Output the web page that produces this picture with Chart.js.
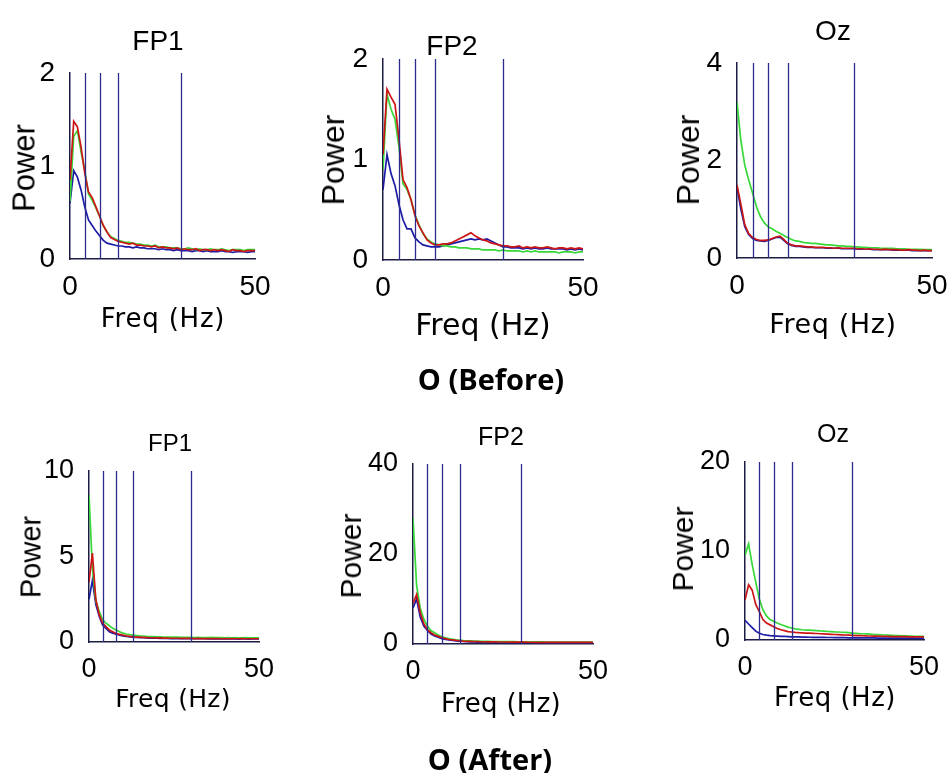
<!DOCTYPE html>
<html>
<head>
<meta charset="utf-8">
<title>EEG power spectra - O (Before / After)</title>
<script src="https://cdn.jsdelivr.net/npm/chart.js@4.4.0/dist/chart.umd.min.js"></script>
<style>
  * { margin: 0; padding: 0; box-sizing: border-box; }
  body { background: #fff; width: 950px; height: 773px; overflow: hidden; position: relative; font-family: 'Liberation Sans', Arial, sans-serif; color: #000; }
  canvas { position: absolute; }
  .lbl { position: absolute; white-space: nowrap; line-height: 1; transform: translate(-50%, -50%); }
  .rot { transform: translate(-50%, -50%) rotate(-90deg); }
  .freq { font-family: 'DejaVu Sans', sans-serif; }
  .section { font-family: 'Open Sans', sans-serif; font-weight: 700; }
</style>
</head>
<body>
<script>
// frequency axis (Hz) and band edges (delta/theta/alpha/beta/gamma)
const freqs = [0,1,2,3,4,5,6,7,8,9,10,11,12,13,14,15,16,17,18,19,20,21,22,23,24,25,26,27,28,29,30,31,32,33,34,35,36,37,38,39,40,41,42,43,44,45,46,47,48,49,50];
const bandEdges = [4, 8, 13, 30];
const xTicks = [0, 50];

// ---- O (Before) ----
const fp1BeforeTicks = [0, 1, 2];
const fp1BeforeRed = [0.85,1.48,1.42,1.2,0.92,0.72,0.66,0.56,0.46,0.36,0.29,0.23,0.21,0.19,0.18,0.17,0.16,0.17,0.15,0.15,0.14,0.14,0.13,0.14,0.12,0.13,0.12,0.12,0.11,0.12,0.1,0.11,0.1,0.1,0.11,0.09,0.1,0.1,0.09,0.1,0.09,0.1,0.09,0.08,0.1,0.09,0.09,0.08,0.09,0.09,0.09];
const fp1BeforeGreen = [0.62,1.32,1.38,1.15,0.95,0.7,0.63,0.55,0.46,0.36,0.29,0.24,0.22,0.2,0.19,0.18,0.18,0.17,0.16,0.16,0.15,0.15,0.14,0.15,0.13,0.13,0.13,0.12,0.12,0.12,0.11,0.11,0.12,0.11,0.1,0.11,0.1,0.1,0.11,0.1,0.1,0.11,0.1,0.09,0.1,0.1,0.1,0.09,0.1,0.1,0.1];
const fp1BeforeBlue = [0.6,0.95,0.88,0.74,0.56,0.42,0.36,0.3,0.25,0.2,0.17,0.16,0.15,0.14,0.14,0.13,0.13,0.12,0.13,0.12,0.12,0.11,0.11,0.11,0.1,0.11,0.1,0.1,0.09,0.1,0.09,0.09,0.09,0.08,0.09,0.09,0.08,0.09,0.08,0.08,0.08,0.09,0.08,0.08,0.07,0.08,0.08,0.08,0.07,0.08,0.08];

const fp2BeforeTicks = [0, 1, 2];
const fp2BeforeRed = [1.05,1.7,1.62,1.55,1.2,0.8,0.72,0.6,0.44,0.34,0.27,0.2,0.17,0.15,0.15,0.16,0.16,0.17,0.19,0.21,0.23,0.25,0.27,0.24,0.22,0.2,0.19,0.17,0.16,0.15,0.14,0.14,0.13,0.13,0.14,0.12,0.13,0.12,0.13,0.12,0.12,0.13,0.12,0.11,0.12,0.12,0.11,0.12,0.11,0.12,0.11];
const fp2BeforeGreen = [0.9,1.65,1.5,1.4,1.12,0.76,0.7,0.6,0.45,0.35,0.26,0.21,0.18,0.16,0.15,0.14,0.14,0.13,0.13,0.12,0.12,0.12,0.11,0.11,0.11,0.1,0.1,0.1,0.1,0.09,0.1,0.09,0.09,0.09,0.09,0.08,0.09,0.08,0.09,0.08,0.08,0.08,0.08,0.08,0.07,0.08,0.08,0.08,0.07,0.08,0.08];
const fp2BeforeBlue = [0.7,1.05,0.86,0.74,0.55,0.4,0.31,0.31,0.22,0.18,0.15,0.14,0.13,0.13,0.13,0.14,0.15,0.16,0.17,0.18,0.19,0.2,0.21,0.2,0.21,0.2,0.21,0.19,0.17,0.15,0.13,0.13,0.12,0.12,0.12,0.11,0.12,0.11,0.12,0.11,0.11,0.12,0.11,0.11,0.11,0.11,0.1,0.11,0.1,0.11,0.1];

const ozBeforeTicks = [0, 2, 4];
const ozBeforeRed = [1.5,1.1,0.68,0.5,0.42,0.38,0.36,0.36,0.37,0.4,0.43,0.45,0.38,0.3,0.27,0.25,0.25,0.24,0.23,0.23,0.22,0.22,0.22,0.21,0.21,0.2,0.21,0.2,0.2,0.2,0.2,0.19,0.19,0.18,0.19,0.18,0.18,0.17,0.18,0.17,0.17,0.17,0.16,0.16,0.17,0.16,0.16,0.15,0.16,0.15,0.15];
const ozBeforeGreen = [3.2,2.4,1.9,1.6,1.33,1.05,0.85,0.72,0.64,0.6,0.55,0.51,0.46,0.42,0.38,0.35,0.34,0.32,0.31,0.3,0.3,0.29,0.28,0.27,0.27,0.26,0.25,0.25,0.24,0.24,0.23,0.23,0.22,0.22,0.21,0.21,0.21,0.2,0.2,0.2,0.2,0.19,0.19,0.19,0.18,0.18,0.18,0.18,0.17,0.17,0.17];
const ozBeforeBlue = [1.45,1.0,0.64,0.48,0.4,0.36,0.35,0.34,0.36,0.39,0.42,0.43,0.36,0.29,0.26,0.24,0.24,0.23,0.22,0.22,0.21,0.21,0.21,0.2,0.2,0.2,0.2,0.19,0.19,0.19,0.19,0.18,0.18,0.18,0.18,0.17,0.17,0.17,0.17,0.17,0.16,0.16,0.16,0.16,0.16,0.15,0.15,0.15,0.15,0.15,0.15];

// ---- O (After) ----
const fp1AfterTicks = [0, 5, 10];
const fp1AfterRed = [3.5,5.2,2.5,1.6,1.1,0.9,0.7,0.6,0.5,0.45,0.4,0.36,0.33,0.3,0.29,0.28,0.27,0.26,0.25,0.25,0.24,0.24,0.23,0.23,0.22,0.22,0.22,0.21,0.21,0.21,0.21,0.2,0.21,0.2,0.2,0.2,0.2,0.2,0.2,0.19,0.2,0.19,0.2,0.19,0.19,0.2,0.19,0.19,0.19,0.19,0.19];
const fp1AfterGreen = [8.6,4.3,2.4,1.8,1.3,1.1,0.95,0.8,0.7,0.6,0.52,0.47,0.43,0.4,0.38,0.36,0.35,0.33,0.32,0.31,0.3,0.3,0.29,0.29,0.28,0.28,0.28,0.27,0.27,0.27,0.27,0.26,0.27,0.26,0.26,0.26,0.27,0.26,0.26,0.26,0.25,0.26,0.25,0.26,0.25,0.25,0.26,0.25,0.25,0.25,0.25];
const fp1AfterBlue = [2.5,3.6,2.2,1.5,1.0,0.8,0.6,0.52,0.45,0.4,0.35,0.32,0.3,0.28,0.27,0.26,0.25,0.24,0.23,0.22,0.22,0.21,0.21,0.21,0.2,0.2,0.2,0.2,0.2,0.19,0.2,0.19,0.19,0.19,0.19,0.18,0.19,0.18,0.18,0.18,0.18,0.18,0.18,0.18,0.17,0.18,0.18,0.17,0.18,0.18,0.18];

const fp2AfterTicks = [0, 20, 40];
const fp2AfterRed = [9,11,7,4.5,3.2,2.5,2,1.7,1.4,1.2,1.0,0.9,0.8,0.72,0.65,0.6,0.57,0.55,0.52,0.5,0.5,0.48,0.47,0.46,0.45,0.44,0.44,0.43,0.42,0.41,0.4,0.4,0.39,0.39,0.38,0.38,0.38,0.37,0.37,0.37,0.36,0.36,0.36,0.36,0.35,0.35,0.35,0.35,0.35,0.35,0.35];
const fp2AfterGreen = [28,13,8,5.5,4,3,2.5,2,1.6,1.4,1.2,1.05,0.9,0.85,0.75,0.7,0.68,0.65,0.63,0.6,0.6,0.58,0.56,0.55,0.55,0.54,0.53,0.52,0.52,0.5,0.5,0.49,0.48,0.48,0.47,0.46,0.46,0.45,0.45,0.44,0.44,0.43,0.43,0.42,0.42,0.42,0.41,0.41,0.4,0.4,0.4];
const fp2AfterBlue = [8,10,6,4,3,2.2,1.8,1.5,1.2,1.0,0.9,0.8,0.7,0.62,0.55,0.5,0.48,0.45,0.43,0.41,0.4,0.39,0.38,0.37,0.37,0.36,0.36,0.35,0.35,0.35,0.35,0.34,0.34,0.33,0.33,0.33,0.32,0.32,0.32,0.32,0.31,0.31,0.31,0.31,0.3,0.3,0.3,0.3,0.3,0.3,0.3];

const ozAfterTicks = [0, 10, 20];
const ozAfterRed = [4.5,6.2,5.6,4.0,3.2,2.3,1.9,1.7,1.5,1.3,1.15,1.05,0.95,0.9,0.85,0.82,0.8,0.78,0.77,0.75,0.73,0.7,0.68,0.66,0.64,0.62,0.6,0.58,0.56,0.54,0.52,0.5,0.49,0.48,0.46,0.45,0.44,0.43,0.42,0.41,0.4,0.39,0.38,0.38,0.37,0.37,0.36,0.36,0.35,0.35,0.35];
const ozAfterGreen = [9.5,10.8,8.5,6.5,4.6,3.4,2.7,2.3,2.1,1.9,1.75,1.6,1.45,1.35,1.25,1.2,1.15,1.12,1.1,1.08,1.05,1.02,1.0,0.97,0.95,0.92,0.9,0.87,0.85,0.82,0.78,0.75,0.72,0.7,0.68,0.65,0.62,0.6,0.58,0.56,0.55,0.53,0.5,0.49,0.47,0.46,0.45,0.43,0.42,0.41,0.4];
const ozAfterBlue = [2.2,1.8,1.4,1.0,0.75,0.62,0.55,0.5,0.47,0.44,0.41,0.4,0.38,0.36,0.35,0.34,0.33,0.32,0.31,0.3,0.3,0.29,0.29,0.28,0.28,0.27,0.27,0.26,0.26,0.25,0.25,0.25,0.24,0.24,0.23,0.23,0.23,0.22,0.22,0.22,0.21,0.21,0.21,0.21,0.2,0.2,0.2,0.2,0.2,0.2,0.2];

// panel placement: plot rect [left, top, right, bottom] in page px
const panels = [
  { title: 'FP1', red: fp1BeforeRed, green: fp1BeforeGreen, blue: fp1BeforeBlue, yTicks: fp1BeforeTicks, rect: [70, 73, 255, 259], tick: 28, xPad: 3,
    titlePos: [158, 41, 28], powerPos: [24, 168, 31], freqPos: [163, 318, 26, 0.8] },
  { title: 'FP2', red: fp2BeforeRed, green: fp2BeforeGreen, blue: fp2BeforeBlue, yTicks: fp2BeforeTicks, rect: [383, 59, 583, 260], tick: 28, xPad: 3,
    titlePos: [452, 46, 28], powerPos: [333, 160, 32], freqPos: [483, 325, 30, 0] },
  { title: 'Oz', red: ozBeforeRed, green: ozBeforeGreen, blue: ozBeforeBlue, yTicks: ozBeforeTicks, rect: [737, 63, 932, 258], tick: 28, xPad: 3,
    titlePos: [833, 31, 28], powerPos: [688, 160, 32], freqPos: [833, 323, 27, 0.6] },
  { title: 'FP1', red: fp1AfterRed, green: fp1AfterGreen, blue: fp1AfterBlue, yTicks: fp1AfterTicks, rect: [89, 471, 259, 642], tick: 27, xPad: 3,
    titlePos: [170, 443, 24], powerPos: [31, 557, 29], freqPos: [173, 698, 25, 0.3] },
  { title: 'FP2', red: fp2AfterRed, green: fp2AfterGreen, blue: fp2AfterBlue, yTicks: fp2AfterTicks, rect: [413, 464, 593, 644], tick: 27, xPad: 3,
    titlePos: [501, 436, 25], powerPos: [351, 556, 30], freqPos: [501, 703, 26, 0.3] },
  { title: 'Oz', red: ozAfterRed, green: ozAfterGreen, blue: ozAfterBlue, yTicks: ozAfterTicks, rect: [745, 462, 924, 640], tick: 27, xPad: 3,
    titlePos: [833, 433, 25], powerPos: [683, 549, 30], freqPos: [835, 697, 26, 0.5] }
];

const sections = [['O (Before)', 491, 378], ['O (After)', 490, 758]];

const axisColor = '#1c1c44';
const tickFamily = "'Liberation Sans', Arial, sans-serif";

// vertical band-edge markers
const bandPlugin = {
  id: 'bands',
  afterDatasetsDraw(chart) {
    const { ctx, chartArea: a, scales: { x } } = chart;
    ctx.save();
    ctx.strokeStyle = '#2c2c8c';
    ctx.lineWidth = 1.3;
    bandEdges.forEach(f => {
      const px = Math.round(x.getPixelForValue(f)) + 0.5;
      ctx.beginPath();
      ctx.moveTo(px, a.top);
      ctx.lineTo(px, a.bottom);
      ctx.stroke();
    });
    ctx.restore();
  }
};

function addLabel(text, x, y, size, cls, spacing) {
  const d = document.createElement('div');
  d.className = 'lbl ' + (cls || '');
  d.textContent = text;
  d.style.left = x + 'px';
  d.style.top = y + 'px';
  d.style.fontSize = size + 'px';
  if (spacing) d.style.letterSpacing = spacing + 'px';
  document.body.appendChild(d);
}

function makePanel(p) {
  const [L, T, R, B] = p.rect;
  const yW = 60, xH = 46, padT = 24, padR = 22;
  const w = R - L + yW + padR, h = B - T + padT + xH;
  const cv = document.createElement('canvas');
  cv.width = w; cv.height = h;
  cv.style.left = (L - yW) + 'px';
  cv.style.top = (T - padT) + 'px';
  cv.style.width = w + 'px';
  cv.style.height = h + 'px';
  document.body.appendChild(cv);

  const series = [[p.red, '#cc1616'], [p.green, '#38d838'], [p.blue, '#1c1ca6']];
  new Chart(cv, {
    type: 'line',
    data: {
      datasets: series.map(([vals, col]) => ({
        data: freqs.map((f, i) => ({ x: f, y: vals[i] })),
        borderColor: col,
        borderWidth: 1.7,
        pointRadius: 0,
        tension: 0,
        fill: false
      }))
    },
    options: {
      responsive: false,
      animation: false,
      devicePixelRatio: 1,
      layout: { padding: { top: padT, right: padR, left: 0, bottom: 0 } },
      plugins: { legend: { display: false }, tooltip: { enabled: false } },
      scales: {
        x: {
          type: 'linear', min: 0, max: 50,
          grid: { display: false },
          border: { display: true, color: axisColor, width: 1.5 },
          ticks: { autoSkip: false, maxRotation: 0, padding: p.xPad, color: '#000', font: { family: tickFamily, size: p.tick } },
          afterBuildTicks: s => { s.ticks = xTicks.map(v => ({ value: v })); },
          afterFit: s => { s.height = xH; }
        },
        y: {
          min: 0, max: p.yTicks[p.yTicks.length - 1],
          grid: { display: false },
          border: { display: true, color: axisColor, width: 1.5 },
          ticks: { autoSkip: false, padding: 7, color: '#000', font: { family: tickFamily, size: p.tick } },
          afterBuildTicks: s => { s.ticks = p.yTicks.map(v => ({ value: v })); },
          afterFit: s => { s.width = yW; }
        }
      }
    },
    plugins: [bandPlugin]
  });

  addLabel(p.title, p.titlePos[0], p.titlePos[1], p.titlePos[2]);
  addLabel('Power', p.powerPos[0], p.powerPos[1], p.powerPos[2], 'rot');
  addLabel('Freq (Hz)', p.freqPos[0], p.freqPos[1], p.freqPos[2], 'freq', p.freqPos[3]);
}

panels.forEach(makePanel);
sections.forEach(([t, x, y]) => addLabel(t, x, y, 29, 'section'));
</script>
</body>
</html>
